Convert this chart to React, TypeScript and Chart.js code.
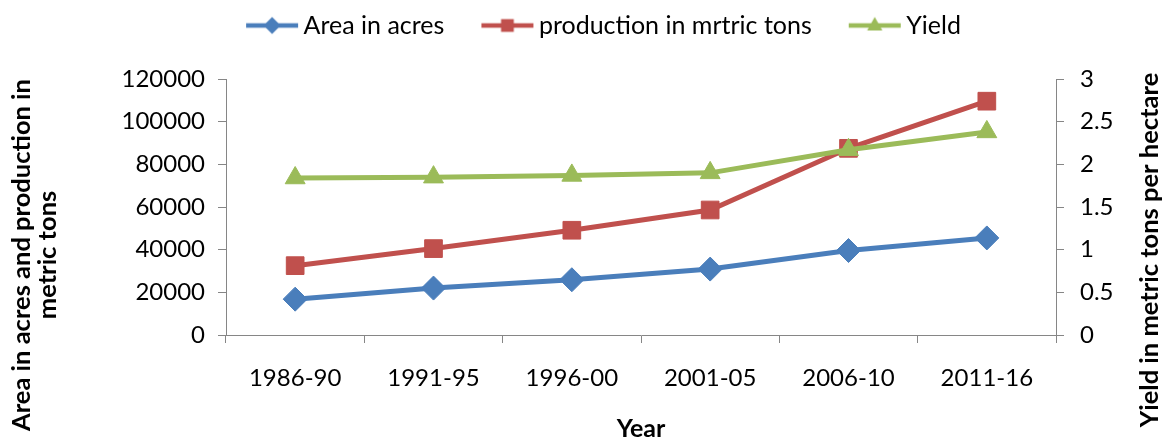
import React, { useEffect, useRef } from 'react';
import { Chart, registerables } from 'chart.js';

Chart.register(...registerables);

// ---- data ----
const categories = ['1986-90', '1991-95', '1996-00', '2001-05', '2006-10', '2011-16'];
const areaAcres = [16800, 22000, 25900, 30900, 39600, 45500];
const productionTons = [32500, 40500, 49100, 58600, 87500, 109600];
const yieldPerHectare = [1.84, 1.85, 1.87, 1.9, 2.17, 2.38];
const seriesLabels = ['Area in acres', 'production in mrtric tons', 'Yield'];
const leftAxisTitle = ['Area in acres and production in', 'metric tons'];
const rightAxisTitle = 'Yield in metric tons per hectare';
const xAxisTitle = 'Year';

// ---- style ----
const BLUE = '#4A7EBB';
const RED = '#C0504D';
const GREEN = '#9BBB59';
const AXIS = '#868686';
const FAMILY = 'Lato, "Open Sans", "DejaVu Sans", sans-serif';
const TICK_FONT = { family: FAMILY, size: 24 };
const LEGEND_FONT = { family: FAMILY, size: 25 };
const TITLE_FONT = { family: FAMILY, size: 25, weight: 'bold' as const, lineHeight: 1 };

function drawMarker(ctx: CanvasRenderingContext2D, shape: string, x: number, y: number, r: number) {
  ctx.beginPath();
  if (shape === 'rectRot') {
    ctx.moveTo(x - r, y);
    ctx.lineTo(x, y - r);
    ctx.lineTo(x + r, y);
    ctx.lineTo(x, y + r);
  } else if (shape === 'rect') {
    ctx.rect(x - r * 0.75, y - r * 0.75, r * 1.5, r * 1.5);
  } else {
    ctx.moveTo(x, y - r);
    ctx.lineTo(x + r * 0.9, y + r * 0.6);
    ctx.lineTo(x - r * 0.9, y + r * 0.6);
  }
  ctx.closePath();
  ctx.fill();
}

// Legend icon: a short line with the series marker, drawn toward the right of the image
function makeLegendIcon(color: string, shape: string): HTMLCanvasElement {
  const c = document.createElement('canvas');
  c.width = 104;
  c.height = 26;
  const ctx = c.getContext('2d')!;
  ctx.strokeStyle = color;
  ctx.fillStyle = color;
  ctx.lineWidth = 4.5;
  ctx.beginPath();
  ctx.moveTo(43, 13);
  ctx.lineTo(95, 13);
  ctx.stroke();
  drawMarker(ctx, shape, 69, 13, 8.5);
  return c;
}

const axisTitlesPlugin = {
  id: 'axisTitles',
  afterDraw(chart: any) {
    const ctx = chart.ctx as CanvasRenderingContext2D;
    ctx.save();
    ctx.fillStyle = '#000';
    ctx.font = `bold 25.5px ${FAMILY}`;
    ctx.textAlign = 'center';
    ctx.textBaseline = 'middle';
    const lineXs = [22, 48];
    leftAxisTitle.forEach((t, i) => {
      ctx.save();
      ctx.translate(lineXs[i], 255);
      ctx.rotate(-Math.PI / 2);
      ctx.fillText(t, 0, 0);
      ctx.restore();
    });
    ctx.save();
    ctx.translate(1150, 250);
    ctx.rotate(-Math.PI / 2);
    ctx.fillText(rightAxisTitle, 0, 0);
    ctx.restore();
    ctx.restore();
  },
};

export default function App() {
  const canvasRef = useRef<HTMLCanvasElement | null>(null);

  useEffect(() => {
    document.body.style.margin = '0';
    const canvas = canvasRef.current;
    if (!canvas) return;
    const shapes = ['rectRot', 'rect', 'triangle'];
    const colors = [BLUE, RED, GREEN];
    const icons = colors.map((c, i) => makeLegendIcon(c, shapes[i]));

    const chart = new Chart(canvas, {
      type: 'line',
      data: {
        labels: categories,
        datasets: [
          {
            label: seriesLabels[0],
            data: areaAcres,
            yAxisID: 'y',
            borderColor: BLUE,
            backgroundColor: BLUE,
            borderWidth: 5,
            pointStyle: 'rectRot',
            pointRadius: 12,
            pointBorderWidth: 1,
            order: 2,
          },
          {
            label: seriesLabels[1],
            data: productionTons,
            yAxisID: 'y',
            borderColor: RED,
            backgroundColor: RED,
            borderWidth: 5,
            pointStyle: 'rect',
            pointRadius: 12.5,
            pointBorderWidth: 1,
            order: 1,
          },
          {
            label: seriesLabels[2],
            data: yieldPerHectare,
            yAxisID: 'y1',
            borderColor: GREEN,
            backgroundColor: GREEN,
            borderWidth: 5,
            pointStyle: 'triangle',
            pointRadius: 11.5,
            pointBorderWidth: 1,
            order: 0,
          },
        ],
      },
      options: {
        responsive: true,
        maintainAspectRatio: false,
        animation: false,
        events: [],
        layout: { padding: { left: 17, top: 3, right: 0, bottom: 0 } },
        plugins: {
          legend: {
            position: 'top',
            weight: 1000,
            labels: {
              usePointStyle: true,
              pointStyleWidth: 72,
              padding: 10,
              color: '#000',
              font: LEGEND_FONT,
              generateLabels: (ch: any) => {
                const items = Chart.defaults.plugins.legend.labels.generateLabels(ch);
                items.sort((a: any, b: any) => a.datasetIndex - b.datasetIndex);
                return items.map((it: any) => ({ ...it, pointStyle: icons[it.datasetIndex] }));
              },
            },
          },
          title: {
            display: true,
            text: '',
            weight: 500,
            padding: { top: 10.5, bottom: 10.5 },
            font: { size: 10, lineHeight: 1 },
          },
          tooltip: { enabled: false },
        } as any,
        scales: {
          x: {
            type: 'category',
            offset: true,
            grid: { offset: true, drawOnChartArea: false, drawTicks: true, tickLength: 8, color: AXIS, lineWidth: 1 },
            border: { display: true, color: AXIS, width: 1 },
            ticks: { font: TICK_FONT, color: '#000', padding: 21, maxRotation: 0, autoSkip: false },
            title: { display: true, text: xAxisTitle, font: TITLE_FONT, color: '#000', padding: { top: 0, bottom: 0 } },
            afterFit: (s: any) => { s.height = 106; },
          },
          y: {
            position: 'left',
            min: 0,
            max: 120000,
            ticks: { stepSize: 20000, padding: 13, font: TICK_FONT, color: '#000', callback: (v: any) => String(v) },
            grid: { drawOnChartArea: false, drawTicks: true, tickLength: 8, color: AXIS },
            border: { display: true, color: AXIS, width: 1 },
            afterFit: (s: any) => { s.width = 209; },
          },
          y1: {
            position: 'right',
            min: 0,
            max: 3,
            ticks: { stepSize: 0.5, padding: 16, font: TICK_FONT, color: '#000', callback: (v: any) => String(v) },
            grid: { drawOnChartArea: false, drawTicks: true, tickLength: 8, color: AXIS },
            border: { display: true, color: AXIS, width: 1 },
            afterFit: (s: any) => { s.width = 107; },
          },
        },
      },
      plugins: [axisTitlesPlugin],
    } as any);

    return () => chart.destroy();
  }, []);

  return (
    <div style={{ position: 'relative', width: 1163, height: 441, background: '#fff' }}>
      <canvas ref={canvasRef} />
    </div>
  );
}
